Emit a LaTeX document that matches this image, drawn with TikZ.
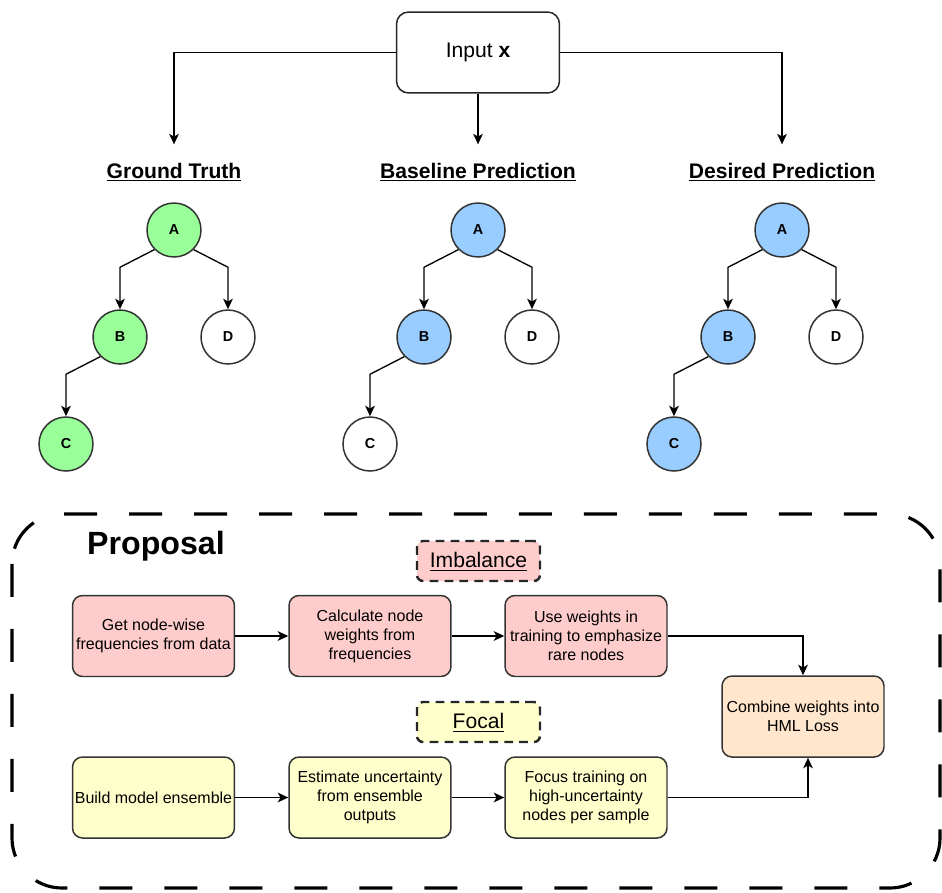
\documentclass[tikz,border=0pt]{standalone}
\usepackage{fontspec}
\setmainfont{Liberation Sans}
\usetikzlibrary{arrows.meta, calc}
\definecolor{truegreen}{HTML}{99FF99}
\definecolor{predblue}{HTML}{99CCFF}
\definecolor{imbpink}{HTML}{FFCCCC}
\definecolor{focyellow}{HTML}{FFFFCC}
\definecolor{lossorange}{HTML}{FFE6CC}

\begin{document}
\begin{tikzpicture}[x=0.02cm, y=-0.02cm,
  tnode/.style={circle, draw=black!80, line width=0.85pt, minimum size=1.08cm, inner sep=0pt,
    font=\fontsize{8.2}{9}\selectfont\bfseries},
  title/.style={inner sep=0pt, anchor=base, font=\fontsize{12}{14}\selectfont\bfseries},
  edge/.style={line width=0.75pt, -{Stealth[length=6pt, width=5.5pt, inset=1.6pt]}},
  stepbox/.style={draw=black!80, line width=0.85pt, rounded corners=0.2cm, minimum width=3.24cm,
    minimum height=1.62cm, align=center, inner sep=1pt, font=\fontsize{9.1}{10.8}\selectfont},
  tagbox/.style={draw=black!85, line width=1.4pt, dash pattern=on 5pt off 3.5pt, rounded corners=0.12cm,
    minimum width=2.46cm, minimum height=0.8cm, text height=0.72em, text depth=0pt,
    font=\fontsize{12}{14}\selectfont}]
\useasboundingbox (0,0) rectangle (942,892);

\node[draw=black!85, line width=0.85pt, rounded corners=0.24cm, minimum width=3.26cm, minimum height=1.62cm,
  font=\fontsize{12}{14}\selectfont] (inp) at (478,52.5) {Input \textbf{x}};

\node[title] (tGT) at (174,178) {\underline{Ground Truth}};
\node[title] (tBP) at (478,178) {\underline{Baseline Prediction}};
\node[title] (tDP) at (782,178) {\underline{Desired Prediction}};

\draw[edge, shorten >=0.36cm] (inp.west) -| (tGT.north);
\draw[edge, shorten >=0.36cm] (inp.south) -- (inp.south |- tBP.north);
\draw[edge, shorten >=0.36cm] (inp.east) -| (tDP.north);

% ground truth
\node[tnode, fill=truegreen] (gA) at (174,230) {A};
\node[tnode, fill=truegreen] (gB) at (120,337) {B};
\node[tnode, fill=white] (gD) at (228,337) {D};
\node[tnode, fill=truegreen] (gC) at (66,444) {C};
\draw[edge] (gA.-135) -- ($(gB.north)+(0,-42)$) -- (gB.north);
\draw[edge] (gA.-45) -- ($(gD.north)+(0,-42)$) -- (gD.north);
\draw[edge] (gB.-135) -- ($(gC.north)+(0,-42)$) -- (gC.north);

% baseline
\node[tnode, fill=predblue] (bA) at (478,230) {A};
\node[tnode, fill=predblue] (bB) at (424,337) {B};
\node[tnode, fill=white] (bD) at (532,337) {D};
\node[tnode, fill=white] (bC) at (370,444) {C};
\draw[edge] (bA.-135) -- ($(bB.north)+(0,-42)$) -- (bB.north);
\draw[edge] (bA.-45) -- ($(bD.north)+(0,-42)$) -- (bD.north);
\draw[edge] (bB.-135) -- ($(bC.north)+(0,-42)$) -- (bC.north);

% desired
\node[tnode, fill=predblue] (dA) at (782,230) {A};
\node[tnode, fill=predblue] (dB) at (728,337) {B};
\node[tnode, fill=white] (dD) at (836,337) {D};
\node[tnode, fill=predblue] (dC) at (674,444) {C};
\draw[edge] (dA.-135) -- ($(dB.north)+(0,-42)$) -- (dB.north);
\draw[edge] (dA.-45) -- ($(dD.north)+(0,-42)$) -- (dD.north);
\draw[edge] (dB.-135) -- ($(dC.north)+(0,-42)$) -- (dC.north);

% proposal
\draw[line width=1.8pt, dash pattern=on 0.66cm off 0.64cm, rounded corners=1cm] (12,514) rectangle (940,888);
\node[inner sep=0pt, font=\fontsize{18.3}{20}\selectfont\bfseries] (prop) at (156,546) {Proposal};

\node[tagbox, fill=imbpink] (imb) at (478.5,561) {\underline{Imbalance}};
\node[tagbox, fill=focyellow] (foc) at (478.5,722) {\underline{Focal}};

\node[stepbox, fill=imbpink] (freq) at (153.5,636) {Get node-wise\\frequencies from data};
\node[stepbox, fill=imbpink] (wts) at (370,636) {Calculate node\\weights from\\frequencies};
\node[stepbox, fill=imbpink] (use) at (586,636) {Use weights in\\training to emphasize\\rare nodes};
\node[stepbox, fill=lossorange] (comb) at (803,716.5) {Combine weights into\\HML Loss};
\node[stepbox, fill=focyellow] (ens) at (153.5,797.5) {Build model ensemble};
\node[stepbox, fill=focyellow] (unc) at (370,797.5) {Estimate uncertainty\\from ensemble\\outputs};
\node[stepbox, fill=focyellow] (foc2) at (586,797.5) {Focus training on\\high-uncertainty\\nodes per sample};

\draw[edge] (freq) -- (wts);
\draw[edge] (wts) -- (use);
\draw[edge] (use.east) -| (comb.north);
\draw[edge] (ens) -- (unc);
\draw[edge] (unc) -- (foc2);
\draw[edge] (foc2.east) -| ([xshift=0.1cm]comb.south);
\end{tikzpicture}
\end{document}
